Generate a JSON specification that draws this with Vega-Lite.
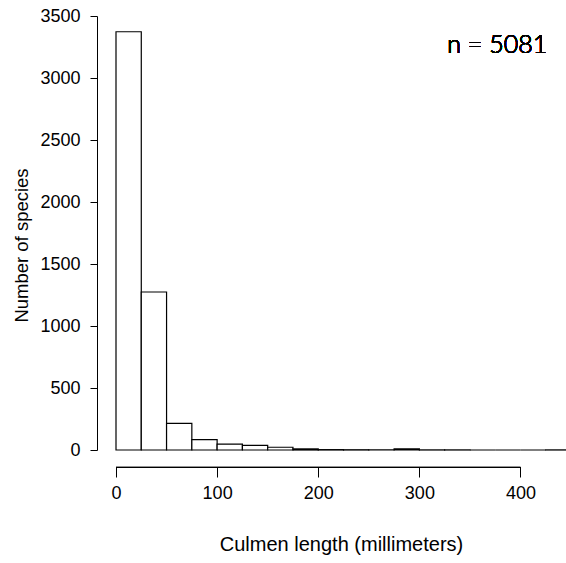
{
  "$schema": "https://vega.github.io/schema/vega-lite/v6.json",
  "autosize": {"type": "none"},
  "width": 450,
  "height": 434,
  "padding": {"left": 116, "top": 16, "right": 0, "bottom": 113},
  "background": "white",
  "config": {"view": {"stroke": null}, "font": "Liberation Sans"},
  "data": {"values": [
    {"bin_start": 0, "bin_end": 25, "count": 3373},
    {"bin_start": 25, "bin_end": 50, "count": 1274},
    {"bin_start": 50, "bin_end": 75, "count": 215},
    {"bin_start": 75, "bin_end": 100, "count": 84},
    {"bin_start": 100, "bin_end": 125, "count": 47},
    {"bin_start": 125, "bin_end": 150, "count": 38},
    {"bin_start": 150, "bin_end": 175, "count": 22},
    {"bin_start": 175, "bin_end": 200, "count": 9},
    {"bin_start": 200, "bin_end": 225, "count": 3},
    {"bin_start": 225, "bin_end": 250, "count": 2},
    {"bin_start": 250, "bin_end": 275, "count": 2},
    {"bin_start": 275, "bin_end": 300, "count": 9},
    {"bin_start": 300, "bin_end": 325, "count": 1},
    {"bin_start": 325, "bin_end": 350, "count": 1},
    {"bin_start": 350, "bin_end": 375, "count": 0},
    {"bin_start": 375, "bin_end": 400, "count": 0},
    {"bin_start": 400, "bin_end": 425, "count": 0},
    {"bin_start": 425, "bin_end": 450, "count": 1}
  ]},
  "layer": [
    {
      "mark": {"type": "bar", "fill": "white", "stroke": "black", "strokeWidth": 1.2},
      "encoding": {
        "x": {"field": "bin_start", "type": "quantitative", "scale": {"domain": [0, 445], "nice": false, "zero": false},
          "axis": {"offset": 17, "domain": false, "values": [0, 100, 200, 300, 400], "format": "d", "tickSize": 10, "tickColor": "black", "tickWidth": 1,
            "labelFontSize": 18, "labelColor": "black", "labelPadding": 7, "labelFlush": false, "grid": false,
            "title": "Culmen length (millimeters)", "titleFontSize": 20, "titleFontWeight": "normal", "titleColor": "black", "titlePadding": 32}},
        "x2": {"field": "bin_end"},
        "y": {"field": "count", "type": "quantitative", "scale": {"domain": [0, 3500], "nice": false},
          "axis": {"offset": 19, "domain": true, "domainColor": "black", "domainWidth": 1, "values": [0, 500, 1000, 1500, 2000, 2500, 3000, 3500], "format": "d",
            "tickSize": 7, "tickColor": "black", "tickWidth": 1, "labelFontSize": 18, "labelColor": "black", "labelPadding": 10, "labelFlush": false, "grid": false,
            "title": "Number of species", "titleFontSize": 18.5, "titleFontWeight": "normal", "titleColor": "black", "titlePadding": 8, "titleY": 229}},
        "y2": {"datum": 0}
      }
    },
    {
      "mark": {"type": "rule", "stroke": "black", "strokeWidth": 1},
      "encoding": {
        "x": {"datum": 0},
        "x2": {"datum": 400},
        "y": {"datum": -141}
      }
    },
    {
      "mark": {"type": "text", "text": "n = 5081", "font": "Lato", "fontSize": 25, "fontWeight": 300, "align": "center", "baseline": "alphabetic", "color": "black"},
      "encoding": {
        "x": {"datum": 377},
        "y": {"datum": 3199}
      }
    }
  ]
}
